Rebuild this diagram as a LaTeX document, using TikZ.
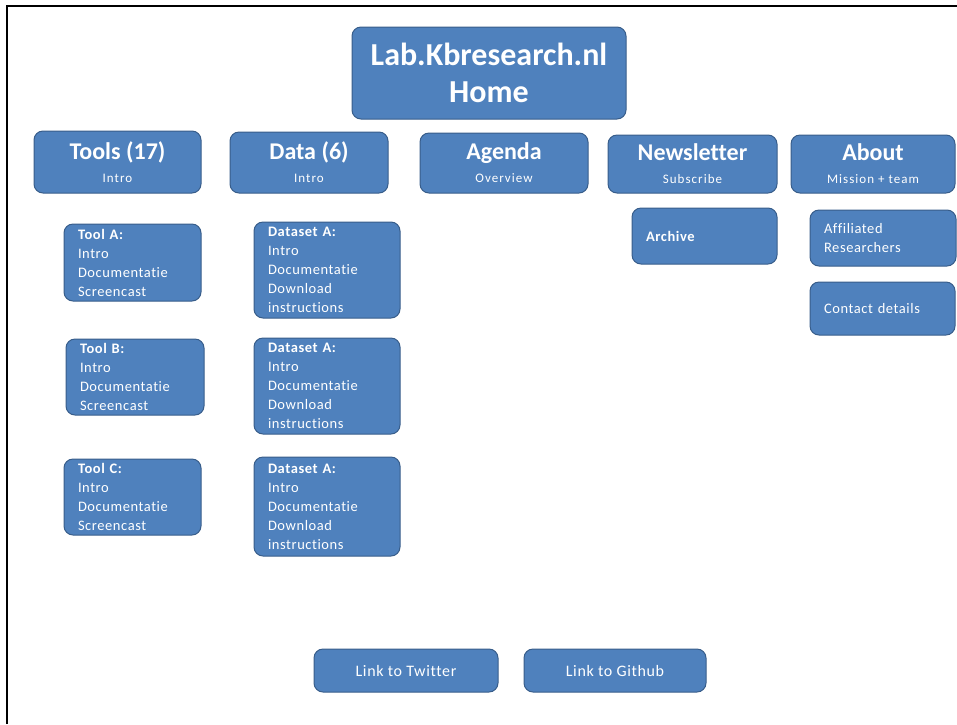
\documentclass[tikz,border=0pt]{standalone}
\usepackage{fontspec}
\setmainfont{Carlito}[Ligatures=NoCommon]
\newfontfamily\spaced[LetterSpace=4,Ligatures=NoCommon]{Carlito}
\newfontfamily\wider[LetterSpace=8,Ligatures=NoCommon]{Carlito}
\definecolor{boxblue}{HTML}{4F81BD}
\definecolor{boxedge}{HTML}{385D8A}
\tikzset{
  box/.style={rounded corners=9pt, fill=boxblue, draw=boxedge, line width=1pt, text=white, inner sep=0pt},
  headbox/.style={box, align=center, font=\wider\fontsize{13}{23}\selectfont},
  sbox/.style={box, align=left, inner xsep=14pt, font=\spaced\fontsize{14.5}{19}\selectfont},
  linkbox/.style={box, font=\spaced\fontsize{16}{19}\selectfont}
}
\newcommand{\headl}[1]{{\normalfont\fontsize{24}{24}\selectfont\bfseries #1}}
\begin{document}
\begin{tikzpicture}[x=1pt,y=-1pt]
\useasboundingbox (0,0) rectangle (957,724);
\draw[line width=2.4pt] (7,724) -- (7,6) -- (957,6);

\node[box, align=center, minimum width=274pt, minimum height=92pt, font=\fontsize{32}{37}\selectfont\bfseries] (home) at (489,73) {Lab.Kbresearch.nl\\Home};

\node[headbox, minimum width=167pt, minimum height=62pt] (tools) at (117.5,162) {\headl{Tools (17)}\\Intro};
\node[headbox, minimum width=158pt, minimum height=61pt] (data) at (309,162.5) {\headl{Data (6)}\\Intro};
\node[headbox, minimum width=168pt, minimum height=60pt] (agenda) at (504,163) {\headl{Agenda}\\Overview};
\node[headbox, minimum width=169pt, minimum height=58pt] (newsletter) at (692.5,164) {\headl{Newsletter}\\Subscribe};
\node[headbox, minimum width=164pt, minimum height=58pt] (about) at (873,164) {\headl{About}\\Mission + team};

\node[sbox, minimum width=145pt, minimum height=56pt, text width=117pt] (archive) at (704.5,236) {\textbf{Archive}};
\node[sbox, minimum width=146pt, minimum height=56pt, text width=118pt] (affil) at (883,238) {Affiliated\\Researchers};
\node[sbox, minimum width=145pt, minimum height=53pt, text width=117pt] (contact) at (882.5,308.5) {Contact details};

\node[sbox, minimum width=137pt, minimum height=77pt, text width=109pt] (toolA) at (132.5,262.5) {\textbf{Tool A:}\\Intro\\Documentatie\\Screencast};
\node[sbox, minimum width=138pt, minimum height=76pt, text width=110pt] (toolB) at (135,377) {\textbf{Tool B:}\\Intro\\Documentatie\\Screencast};
\node[sbox, minimum width=137pt, minimum height=76pt, text width=109pt] (toolC) at (132.5,497) {\textbf{Tool C:}\\Intro\\Documentatie\\Screencast};

\node[sbox, minimum width=146pt, minimum height=96pt, text width=118pt] (dataA) at (327,270) {\textbf{Dataset A:}\\Intro\\Documentatie\\Download\\instructions};
\node[sbox, minimum width=146pt, minimum height=96pt, text width=118pt] (dataB) at (327,386) {\textbf{Dataset A:}\\Intro\\Documentatie\\Download\\instructions};
\node[sbox, minimum width=146pt, minimum height=99pt, text width=118pt] (dataC) at (327,506.5) {\textbf{Dataset A:}\\Intro\\Documentatie\\Download\\instructions};

\node[linkbox, minimum width=184pt, minimum height=43pt] (twitter) at (406,670.5) {Link to Twitter};
\node[linkbox, minimum width=182pt, minimum height=43pt] (github) at (615,670.5) {Link to Github};
\end{tikzpicture}
\end{document}
